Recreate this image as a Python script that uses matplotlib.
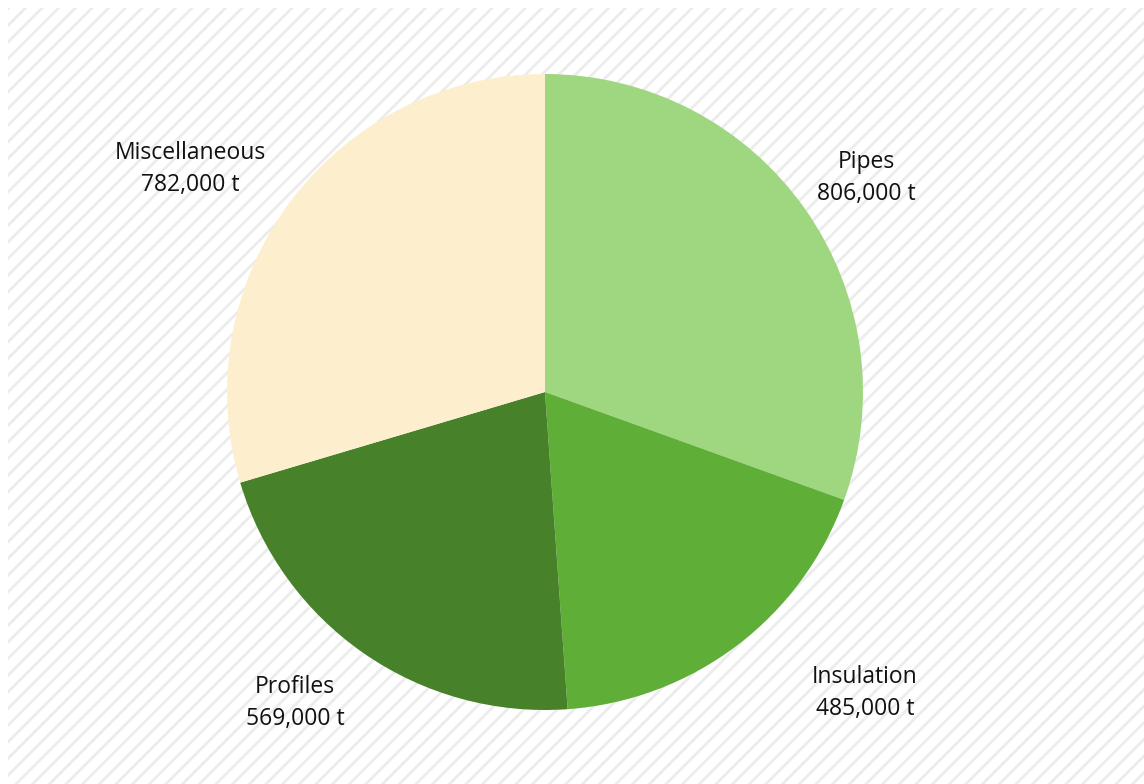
import matplotlib
matplotlib.use("Agg")
import matplotlib.pyplot as plt
from matplotlib.patches import Rectangle

categories = ["Pipes", "Insulation", "Profiles", "Miscellaneous"]
values = [806000, 485000, 569000, 782000]
value_labels = ["806,000 t", "485,000 t", "569,000 t", "782,000 t"]
colors = ["#9fd780", "#5fae37", "#47822a", "#fdefce"]

# label positions in pie-radius units (layout only)
label_pos = [(1.01, 0.673), (1.006, -0.946), (-0.786, -0.978), (-1.116, 0.701)]

plt.rcParams["hatch.linewidth"] = 2.0
plt.rcParams["hatch.color"] = "#ececec"

W, H = 1144, 784
fig = plt.figure(figsize=(W / 100, H / 100), dpi=100)
fig.patch.set_facecolor("white")

bg = Rectangle((8 / W, 0), 1 - 8 / W, 1 - 8 / H, transform=fig.transFigure,
               facecolor="white", edgecolor="#ececec", hatch="//", linewidth=0, zorder=-10)
fig.patches.append(bg)

R = 318
cx, cy = 545, H - 392
xl, yl = 1.5, 1.2
ax = fig.add_axes([(cx - xl * R) / W, (cy - yl * R) / H, 2 * xl * R / W, 2 * yl * R / H])
ax.set_zorder(5)
ax.set_facecolor("none")
ax.pie(values, colors=colors, startangle=90, counterclock=False, radius=1,
       wedgeprops=dict(linewidth=0))
ax.set_xlim(-xl, xl)
ax.set_ylim(-yl, yl)
ax.set_aspect("equal")
ax.axis("off")

for cat, vl, (x, y) in zip(categories, value_labels, label_pos):
    ax.text(x, y, f"{cat}\n{vl}", ha="center", va="center", fontsize=16.5,
            family="Open Sans", color="#111111", linespacing=1.42)

fig.savefig("out.png", dpi=100, facecolor="white")
